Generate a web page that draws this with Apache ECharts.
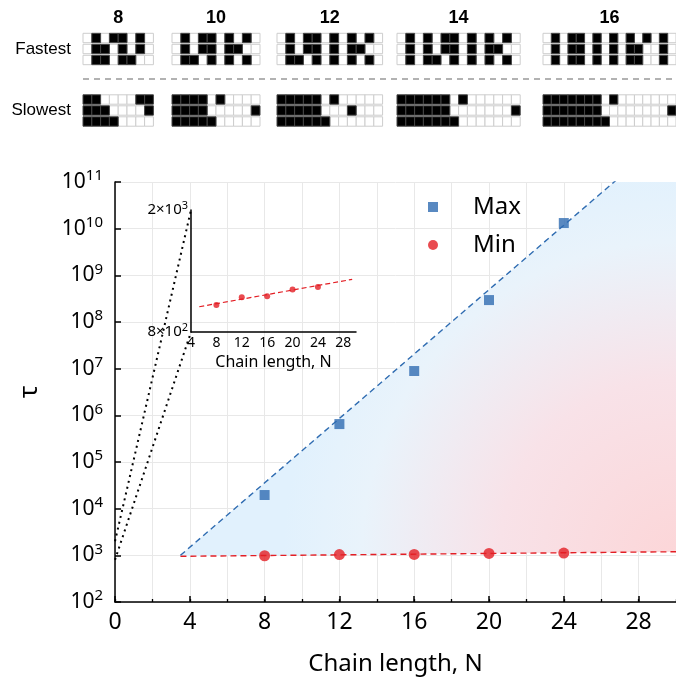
<!DOCTYPE html>
<html><head><meta charset="utf-8">
<script src="https://cdn.jsdelivr.net/npm/echarts@6/dist/echarts.min.js"></script>
<style>html,body{margin:0;padding:0;background:#fff}#c{width:676px;height:682px}</style>
</head><body><div id="c"></div>
<script>
// ---------------- data ----------------
const chainN = [8, 12, 16, 20, 24];
const maxTau = [1.96e4, 6.5e5, 8.9e6, 2.95e8, 1.32e10];
const minTau = [980, 1039, 1047, 1101, 1121];
const fitN = [3.5, 30];
const maxFit = [1000, 1.39e12];
const minFit = [953, 1194];
const insetFitN = [5.3, 29.4];
const insetFit = [967, 1188];
const insetRange = [800, 2000];
const insetXRange = [4, 30];
const mainYRange = [100, 1e11];
const mainXRange = [0, 30];
const seriesNames = ['Max', 'Min'];
const blockN = [8, 10, 12, 14, 16];
const rowNames = ['Fastest', 'Slowest'];
const fastest = {
  8:  ['01011010', '01101010', '01101100'],
  10: ['0101101010', '0101101100', '0110101010'],
  12: ['010110101010', '010110101100', '011010101010'],
  14: ['01010110101010', '01010110101100', '01011010101010'],
  16: ['0101101010101010', '0101101010110010', '0101101010110010']
};
const slowest = {
  8:  ['11000011', '11100001', '11110000'],
  10: ['1111010000', '1111000001', '1111100000'],
  12: ['111110100000', '111110001000', '111111000000'],
  14: ['11111101000000', '11111100000001', '11111110000000'],
  16: ['1111111010000000', '1111111000000001', '1111111100000000']
};

// ---------------- layout / style ----------------
const F = "'Noto Sans', sans-serif";
const TF = "'Liberation Sans', Arial, sans-serif";
const blockLeft = [83, 172, 277, 397, 543];
const cellW = 8.8;
const RED = '#e31e24', BLUE = '#2f6cb1', GRID = '#e8e8e8';

const chart = echarts.init(document.getElementById('c'));

const zip = (a, b) => a.map((v, i) => [v, b[i]]);
const sup = (base, exp) => '{b|' + base + '}{s|' + exp + '}';
function logInterp(x0, y0, x1, y1, yTarget) {
  const l0 = Math.log10(y0), l1 = Math.log10(y1), lt = Math.log10(yTarget);
  return x0 + (lt - l0) / (l1 - l0) * (x1 - x0);
}
const areaGradient = new echarts.graphic.RadialGradient(1, 1, 1.05, [
  { offset: 0, color: '#fcd6d8' },
  { offset: 0.45, color: '#f8e2e8' },
  { offset: 0.8, color: '#e9f3fb' },
  { offset: 1, color: '#e1f1fd' }
]);

const grids = [
  { left: 115, top: 182, width: 561, height: 420 },
  { left: 191, top: 210, width: 165, height: 122 }
];
const xAxes = [
  {
    gridIndex: 0, type: 'value', min: mainXRange[0], max: mainXRange[1], interval: 4, position: 'bottom',
    axisLine: { lineStyle: { color: '#000', width: 1.5 } },
    axisTick: { inside: true, length: 6, lineStyle: { color: '#000', width: 1.5 } },
    splitLine: { show: false },
    axisLabel: { fontSize: 23, fontFamily: F, color: '#000', margin: 9, showMaxLabel: false },
    name: 'Chain length, N', nameLocation: 'middle', nameGap: 50,
    nameTextStyle: { fontSize: 24, fontFamily: F, color: '#000' }
  },
  {
    gridIndex: 1, type: 'value', min: insetXRange[0], max: insetXRange[1], interval: 4,
    axisLine: { lineStyle: { color: '#000', width: 1.5 } },
    axisTick: { show: false },
    splitLine: { show: false },
    axisLabel: { fontSize: 14, fontFamily: F, color: '#000', margin: 4, showMaxLabel: false },
    name: 'Chain length, N', nameLocation: 'middle', nameGap: 22,
    nameTextStyle: { fontSize: 16, fontFamily: F, color: '#000' }
  }
];
const yAxes = [
  {
    gridIndex: 0, type: 'log', logBase: 10, min: mainYRange[0], max: mainYRange[1],
    axisLine: { show: true, lineStyle: { color: '#000', width: 1.5 } },
    axisTick: { show: true, inside: true, length: 6, lineStyle: { color: '#000', width: 1.5 } },
    splitLine: { show: true, lineStyle: { color: GRID, width: 1 } },
    axisLabel: {
      margin: 12, color: '#000',
      formatter: v => sup('10', Math.round(Math.log10(v))),
      rich: {
        b: { fontSize: 21, fontFamily: F, color: '#000' },
        s: { fontSize: 15, fontFamily: F, color: '#000', padding: [0, 0, 12, 0] }
      }
    },
    name: 'τ', nameLocation: 'middle', nameGap: 72, nameRotate: 90,
    nameTextStyle: { fontSize: 26, fontFamily: F, color: '#000' }
  },
  {
    gridIndex: 1, type: 'log', logBase: 10, min: insetRange[0], max: insetRange[1],
    axisLine: { show: true, lineStyle: { color: '#000', width: 1.5 } },
    axisTick: { show: false },
    splitLine: { show: false },
    axisLabel: {
      margin: 3, color: '#000', showMinLabel: true, showMaxLabel: true,
      formatter: v => {
        const e = Math.floor(Math.log10(v) + 1e-9);
        const m = Math.round(v / Math.pow(10, e));
        if (Math.abs(v - insetRange[0]) < 1 || Math.abs(v - insetRange[1]) < 1) return sup(m + '×10', e);
        return '';
      },
      rich: {
        b: { fontSize: 15, fontFamily: F, color: '#000' },
        s: { fontSize: 11, fontFamily: F, color: '#000', padding: [0, 0, 8, 0] }
      }
    }
  }
];

const series = [
  {
    type: 'custom', name: 'band', coordinateSystem: 'cartesian2d', xAxisIndex: 0, yAxisIndex: 0,
    data: [[fitN[0], minFit[0]]], silent: true, z: 1, clip: true,
    renderItem: (params, api) => {
      const yTop = mainYRange[1];
      const nTop = logInterp(fitN[0], maxFit[0], fitN[1], maxFit[1], yTop);
      const pts = [
        [fitN[0], minFit[0]], [fitN[1], minFit[1]], [fitN[1], yTop], [nTop, yTop], [fitN[0], maxFit[0]]
      ].map(p => api.coord(p));
      return { type: 'polygon', shape: { points: pts }, style: { fill: areaGradient } };
    }
  },
  {
    type: 'line', name: 'minFit', xAxisIndex: 0, yAxisIndex: 0,
    data: zip(fitN, minFit), symbol: 'none', silent: true, z: 3,
    lineStyle: { color: RED, width: 1.4, type: [6, 4] }
  },
  {
    type: 'line', name: 'maxFit', xAxisIndex: 0, yAxisIndex: 0,
    data: zip(fitN, maxFit), symbol: 'none', silent: true, z: 3,
    lineStyle: { color: BLUE, width: 1.4, type: [6, 4] }
  },
  {
    type: 'scatter', name: seriesNames[0], xAxisIndex: 0, yAxisIndex: 0,
    data: zip(chainN, maxTau), symbol: 'rect', symbolSize: 10, z: 5,
    itemStyle: { color: BLUE }
  },
  {
    type: 'scatter', name: seriesNames[1], xAxisIndex: 0, yAxisIndex: 0,
    data: zip(chainN, minTau), symbol: 'circle', symbolSize: 11, z: 5,
    itemStyle: { color: RED }
  },
  {
    type: 'line', name: 'insetFit', xAxisIndex: 1, yAxisIndex: 1,
    data: zip(insetFitN, insetFit), symbol: 'none', silent: true,
    lineStyle: { color: RED, width: 1.2, type: [5, 3] }
  },
  {
    type: 'scatter', name: 'insetMin', xAxisIndex: 1, yAxisIndex: 1,
    data: zip(chainN, minTau), symbol: 'circle', symbolSize: 6,
    itemStyle: { color: RED }
  }
];

function cellItem(params, api) {
  const c = api.coord([api.value(0), api.value(1)]);
  const s = api.size([1, 1]);
  const on = api.value(2) === 1;
  return {
    type: 'rect',
    shape: { x: c[0] - s[0] / 2, y: c[1] - s[1] / 2 + 0.8, width: s[0], height: s[1] - 1.6 },
    style: { fill: on ? '#000' : '#fff', stroke: on ? '#444' : '#cdcdcd', lineWidth: 1 }
  };
}

blockN.forEach((n, b) => {
  [fastest[n], slowest[n]].forEach((rows, k) => {
    const gi = grids.length;
    grids.push({ left: blockLeft[b], top: k === 0 ? 32.5 : 94, width: n * cellW, height: 33 });
    xAxes.push({
      gridIndex: gi, type: 'category', data: Array.from({ length: n }, (_, i) => i),
      position: 'top',
      axisLine: { show: false }, axisTick: { show: false }, axisLabel: { show: false }, splitLine: { show: false },
      name: k === 0 ? String(n) : '', nameLocation: 'middle', nameGap: 5,
      nameTextStyle: { fontFamily: TF, fontWeight: 'bold', fontSize: 18, color: '#000' }
    });
    yAxes.push({
      gridIndex: gi, type: 'category', data: [0, 1, 2], inverse: true,
      axisLine: { show: false }, axisTick: { show: false }, axisLabel: { show: false }, splitLine: { show: false },
      name: b === 0 ? rowNames[k] : '', nameLocation: 'middle', nameRotate: 0, nameGap: 12,
      nameTextStyle: { fontFamily: TF, fontSize: 17, color: '#000' }
    });
    const white = [], black = [];
    rows.forEach((r, ri) => r.split('').forEach((ch, ci) => (ch === '1' ? black : white).push([ci, ri, +ch])));
    series.push({
      type: 'custom', coordinateSystem: 'cartesian2d', xAxisIndex: gi, yAxisIndex: gi,
      data: white.concat(black), renderItem: cellItem, silent: true
    });
  });
});

// secondary x axis on the main grid: every-2 split lines and minor ticks
xAxes.push({
  gridIndex: 0, type: 'value', min: mainXRange[0], max: mainXRange[1], interval: 2, position: 'bottom',
  axisLine: { show: false },
  axisTick: { show: true, inside: true, length: 3, lineStyle: { color: '#000', width: 1.3 } },
  axisLabel: { show: false },
  splitLine: { show: true, lineStyle: { color: GRID, width: 1 } }
});

chart.setOption({
  animation: false,
  backgroundColor: '#fff',
  grid: grids,
  xAxis: xAxes,
  yAxis: yAxes,
  legend: {
    data: seriesNames, orient: 'vertical', left: 423, top: 189,
    itemWidth: 10, itemHeight: 10, itemGap: 12,
    formatter: n => '{g|}' + n,
    textStyle: { fontSize: 24, fontFamily: F, color: '#000', lineHeight: 26, rich: { g: { width: 30 } } }
  },
  series: series
});

// connector lines (zoom indication) and separator
const a1 = chart.convertToPixel({ gridIndex: 0 }, [mainXRange[0], insetRange[1]]);
const b1 = chart.convertToPixel({ gridIndex: 1 }, [insetXRange[0], insetRange[1]]);
const a2 = chart.convertToPixel({ gridIndex: 0 }, [mainXRange[0], insetRange[0]]);
const b2 = chart.convertToPixel({ gridIndex: 1 }, [insetXRange[0], insetRange[0]]);
chart.setOption({
  graphic: [
    { type: 'line', shape: { x1: a1[0], y1: a1[1], x2: b1[0], y2: b1[1] }, style: { stroke: '#000', lineWidth: 2, lineDash: [2, 4] }, z: 10 },
    { type: 'line', shape: { x1: a2[0], y1: a2[1], x2: b2[0], y2: b2[1] }, style: { stroke: '#000', lineWidth: 2, lineDash: [2, 4] }, z: 10 },
    { type: 'line', shape: { x1: 83, y1: 79, x2: 676, y2: 79 }, style: { stroke: '#999', lineWidth: 1.5, lineDash: [6, 5] } }
  ]
});
</script>
</body></html>
